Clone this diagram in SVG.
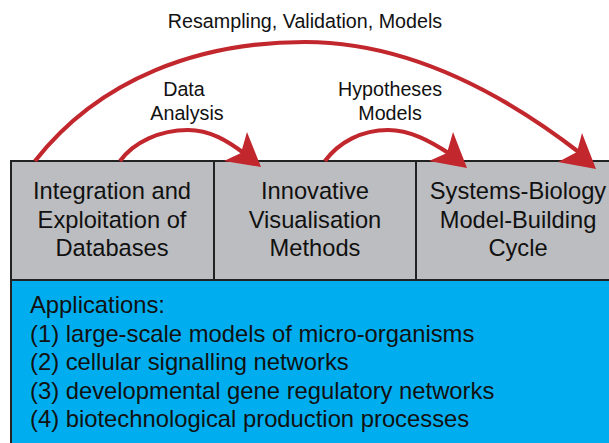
<svg xmlns="http://www.w3.org/2000/svg" width="609" height="443" viewBox="0 0 609 443">
<style>
text{font-family:"Liberation Sans",Arial,sans-serif;fill:#111}
.box{font-size:23.7px;text-anchor:middle}
.app{font-size:23.8px}
.lab{font-size:19.7px;text-anchor:middle}
.g{fill:#bcbdc0;stroke:#222;stroke-width:2}
.c{fill:none;stroke:#c1272d;stroke-width:4.2}
.h{fill:#c1272d}
</style>
<rect width="609" height="443" fill="#fff"/>
<g id="node-integration"><rect class="g" x="11" y="161" width="203" height="119"/>
<text class="box" x="112" y="199">Integration and</text><text class="box" x="112" y="228">Exploitation of</text><text class="box" x="112" y="256">Databases</text></g>
<g id="node-innovative"><rect class="g" x="214" y="161" width="202" height="119"/>
<text class="box" x="315" y="199">Innovative</text><text class="box" x="315" y="228">Visualisation</text><text class="box" x="315" y="256">Methods</text></g>
<g id="node-systems"><rect class="g" x="416" y="161" width="194" height="119"/>
<text class="box" x="518" y="199">Systems-Biology</text><text class="box" x="518" y="228">Model-Building</text><text class="box" x="518" y="256">Cycle</text></g>
<g id="node-applications"><rect x="11" y="280" width="599" height="164" fill="#00aeef" stroke="#222" stroke-width="2"/>
<text class="app" x="30" y="313">Applications:</text>
<text class="app" x="30" y="342">(1) large-scale models of micro-organisms</text>
<text class="app" x="30" y="370">(2) cellular signalling networks</text>
<text class="app" x="30" y="399">(3) developmental gene regulatory networks</text>
<text class="app" x="30" y="427">(4) biotechnological production processes</text></g>
<g id="connectors">
<path class="c" d="M35 161C100 78 200 42 305 42C410 42 505 95 580 153"/>
<path class="h" d="M558 162L577 152L582 133L596 169Z"/>
<path class="c" d="M120 161C134 142 160 130 188 130C210 130 228 141 245 154"/>
<path class="h" d="M224 161L241 153L247 132L261 167Z"/>
<path class="c" d="M325 161C339 142 362 130 388 130C410 130 430 141 450 154"/>
<path class="h" d="M429 161L447 153L453 132L467 168Z"/>
</g>
<g id="labels">
<text class="lab" x="305" y="28">Resampling, Validation, Models</text>
<text class="lab" x="184" y="96">Data</text><text class="lab" x="187" y="120">Analysis</text>
<text class="lab" x="390" y="96">Hypotheses</text><text class="lab" x="390" y="120">Models</text>
</g>
</svg>
